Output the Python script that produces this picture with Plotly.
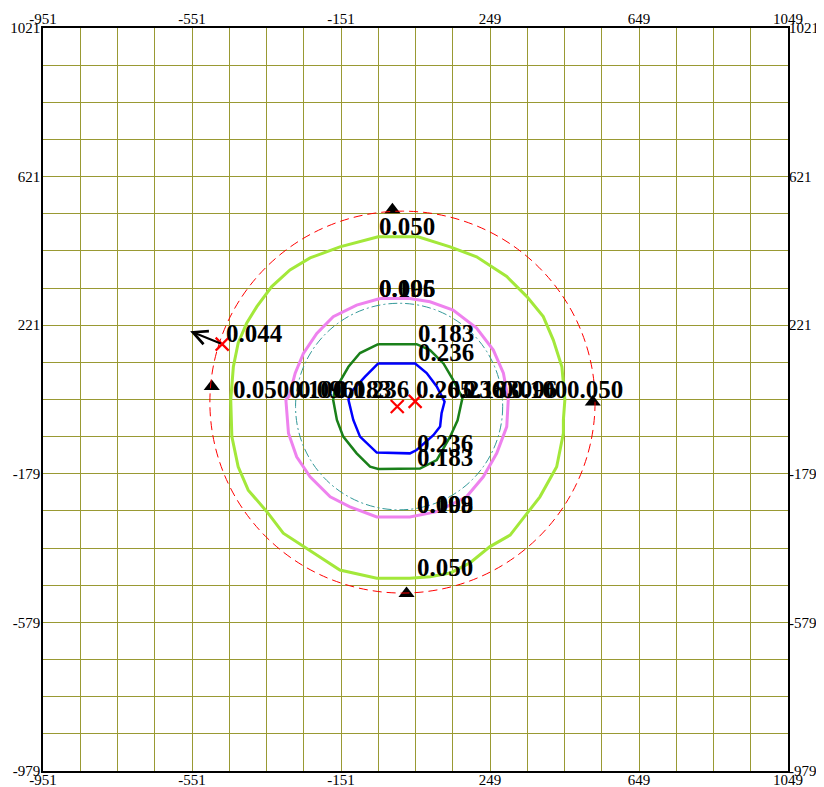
import plotly.graph_objects as go

# ---------------- data (data units) ----------------
x_ticks = [-951, -551, -151, 249, 649, 1049]
y_ticks = [1021, 621, 221, -179, -579, -979]
x_grid = list(range(-951, 1050, 100))
y_grid = list(range(-979, 1022, 100))

lime_x = [-51, 56, 142, 213, 294, 348, 392, 419, 442, 446, 450, 446, 446, 428, 383, 352, 303, 249, 195, 142, 88, 34,
          -55, -154, -243, -306, -350, -400, -427, -444, -447, -444, -440, -427, -404, -377, -337, -288, -234, -154]
lime_y = [459, 459, 432, 405, 352, 298, 244, 181, 109, 56, 20, -34, -70, -160, -241, -281, -344, -375, -419, -446, -456, -460,
          -460, -438, -380, -339, -281, -223, -160, -79, 20, 56, 109, 173, 227, 271, 325, 370, 402, 432]

pink_x = [-46, 34, 88, 150, 213, 258, 285, 298, 294, 267, 231, 186, 106, 34, -55, -127, -180, -234, -270, -292, -299, -290, -274,
          -252, -216, -172, -109]
pink_y = [293, 293, 284, 262, 213, 154, 92, 20, -52, -124, -187, -241, -281, -295, -295, -268, -241, -187, -133, -70, 20, 30, 92,
          145, 199, 244, 275]

green_x = [-51, 52, 88, 124, 150, 175, 162, 142, 106, 61, -51, -73, -109, -145, -162, -172, -168, -131, -100]
green_y = [170, 170, 154, 118, 74, 25, -35, -79, -142, -165, -166, -160, -124, -79, -34, 20, 45, 109, 146]

blue_x = [-51, 48, 79, 106, 127, 119, 115, 97, 52, 34, -55, -100, -118, -131, -125, -87]
blue_y = [118, 118, 92, 56, 15, -16, -52, -75, -115, -124, -122, -79, -34, 20, 40, 82]

red_circle = [-503, -500, 531, 528]     # x0, y0, x1, y1
teal_circle = [-273, -276, 283, 280]

cross_x = [0, 48, -470]
cross_y = [2, 16, 170]
tri_x = [-13, -498, 525, 25]
tri_y = [532, 56, 14, -501]

arrow_tail = (-470, 170)
arrow_head = (-556, 205)

label_text = ["0.050", "0.096", "0.105", "0.183", "0.236", "0.044",
              "0.050", "0.100", "0.096", "0.183", "0.236",
              "0.265", "0.236", "0.183", "0.096", "0.100", "0.050",
              "0.236", "0.183", "0.109", "0.098", "0.050"]
label_x = [-51, -51, -51, 53, 53, -462,
           -444, -293, -269, -170, -121,
           48, 134, 174, 276, 303, 453,
           50, 50, 50, 50, 50]
label_y = [462, 294, 294, 173, 122, 173,
           23, 23, 23, 23, 23,
           23, 23, 23, 23, 23, 23,
           -124, -161, -287, -287, -457]

# ---------------- styles ----------------
GRID = "#999933"
SERIF = "Liberation Serif"

fig = go.Figure()


def closed(a):
    return list(a) + [a[0]]


for xs, ys, col, w in [(lime_x, lime_y, "#a3e83a", 3),
                       (pink_x, pink_y, "#ee82ee", 3),
                       (green_x, green_y, "#1a801a", 2.5),
                       (blue_x, blue_y, "#0000ff", 2.5)]:
    fig.add_trace(go.Scatter(x=closed(xs), y=closed(ys), mode="lines",
                             line=dict(color=col, width=w), hoverinfo="skip"))

fig.add_trace(go.Scatter(x=cross_x, y=cross_y, mode="markers",
                         marker=dict(symbol="x-thin", size=13, line=dict(color="red", width=2.2)),
                         hoverinfo="skip"))
fig.add_trace(go.Scatter(x=tri_x, y=tri_y, mode="markers",
                         marker=dict(symbol="triangle-up", size=14, color="black"),
                         hoverinfo="skip"))
# invisible trace to anchor the mirrored (top / right) axes
fig.add_trace(go.Scatter(x=[x_ticks[0]], y=[y_ticks[0]], xaxis="x2", yaxis="y2",
                         mode="markers", marker=dict(opacity=0), hoverinfo="skip"))

fig.add_shape(type="circle", xref="x", yref="y",
              x0=red_circle[0], y0=red_circle[1], x1=red_circle[2], y1=red_circle[3],
              line=dict(color="red", width=1, dash="9px,5px"))
fig.add_shape(type="circle", xref="x", yref="y",
              x0=teal_circle[0], y0=teal_circle[1], x1=teal_circle[2], y1=teal_circle[3],
              line=dict(color="#339999", width=1, dash="9px,3px,2px,3px"))

annotations = [dict(x=arrow_head[0], y=arrow_head[1], ax=arrow_tail[0], ay=arrow_tail[1],
                    xref="x", yref="y", axref="x", ayref="y", text="", showarrow=True,
                    arrowhead=5, arrowsize=1.4, arrowwidth=2, arrowcolor="black")]
for t, lx, ly in zip(label_text, label_x, label_y):
    annotations.append(dict(x=lx, y=ly, xref="x", yref="y", text=t, showarrow=False,
                            xanchor="left", yanchor="bottom", xshift=-1, yshift=-6,
                            font=dict(family=SERIF, size=25, color="black", weight="bold")))

tickfont = dict(family=SERIF, size=15, color="black")
axis_common = dict(showline=True, linecolor="black", linewidth=1.5, mirror=True,
                   zeroline=False, ticks="", tickfont=tickfont, automargin=False)

# the page body has an 8px margin, so the figure is 8px smaller and its margins 8px less
fig.update_layout(
    width=816, height=779,
    margin=dict(l=35, r=36, t=20, b=16, autoexpand=False),
    paper_bgcolor="white", plot_bgcolor="white",
    showlegend=False,
    annotations=annotations,
    xaxis=dict(range=[-951, 1049], tickvals=x_ticks, ticktext=[str(v) for v in x_ticks],
               showgrid=True, gridcolor=GRID, gridwidth=1.3, ticklabelstandoff=-6,
               minor=dict(tickvals=x_grid, showgrid=True, gridcolor=GRID, gridwidth=1.3),
               **axis_common),
    yaxis=dict(range=[-979, 1021], tickvals=y_ticks, ticktext=[str(v) for v in y_ticks],
               showgrid=True, gridcolor=GRID, gridwidth=1.3, ticklabelstandoff=-2,
               minor=dict(tickvals=y_grid, showgrid=True, gridcolor=GRID, gridwidth=1.3),
               **axis_common),
    xaxis2=dict(range=[-951, 1049], overlaying="x", side="top", tickvals=x_ticks,
                ticktext=[str(v) for v in x_ticks], showgrid=False, zeroline=False,
                ticks="", tickfont=tickfont, showline=False, automargin=False),
    yaxis2=dict(range=[-979, 1021], overlaying="y", side="right", tickvals=y_ticks,
                ticktext=[str(v) for v in y_ticks], showgrid=False, zeroline=False,
                ticks="", tickfont=tickfont, showline=False, automargin=False),
)

fig.write_html("out.html")
